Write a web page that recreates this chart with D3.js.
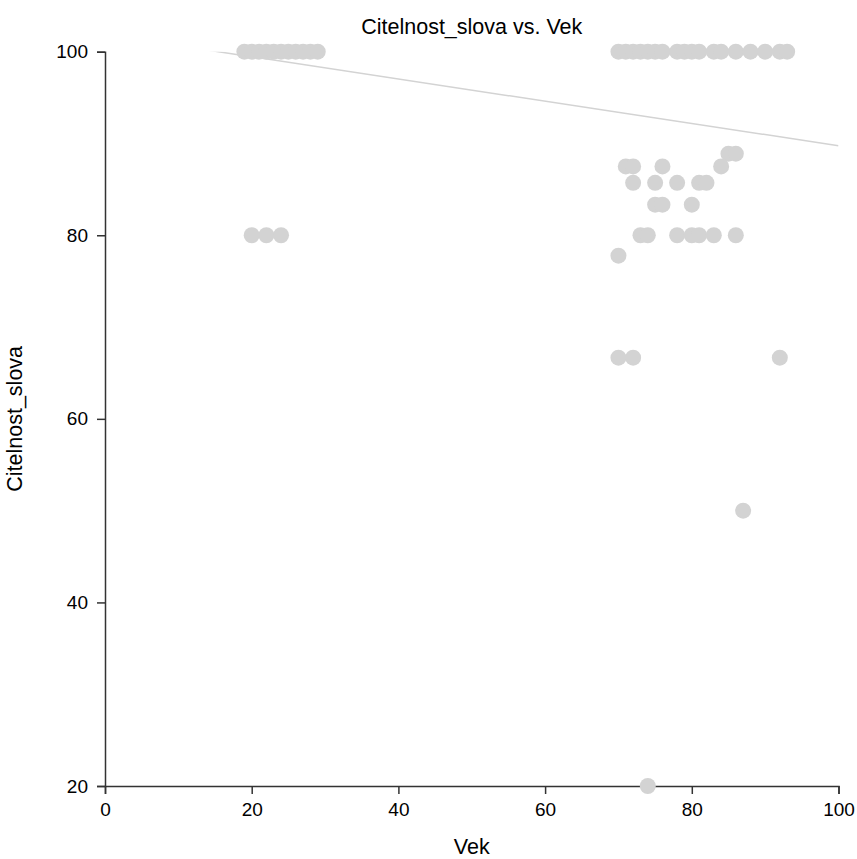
<!DOCTYPE html>
<html>
<head>
<meta charset="utf-8">
<script src="https://cdn.jsdelivr.net/npm/d3@7"></script>
<style>
  html, body { margin: 0; padding: 0; background: #fff; }
  text { font-family: "Liberation Sans", Arial, sans-serif; fill: #000; }
</style>
</head>
<body>
<script>
// Age (Vek) of each respondent and their word legibility score (Citelnost_slova)
const vek = [
  19, 20, 21, 22, 23, 24, 25, 26, 27, 28, 29,
  70, 71, 72, 73, 74, 75, 76, 78, 79, 80, 81, 83, 84, 86, 88, 90, 92, 93,
  85, 86,
  71, 72, 76, 84,
  72, 75, 78, 81, 82,
  75, 76, 80,
  20, 22, 24, 73, 74, 78, 80, 81, 83, 86,
  70,
  70, 72, 92,
  87,
  74
];
const citelnost = [
  100, 100, 100, 100, 100, 100, 100, 100, 100, 100, 100,
  100, 100, 100, 100, 100, 100, 100, 100, 100, 100, 100, 100, 100, 100, 100, 100, 100, 100,
  88.89, 88.89,
  87.5, 87.5, 87.5, 87.5,
  85.71, 85.71, 85.71, 85.71, 85.71,
  83.33, 83.33, 83.33,
  80, 80, 80, 80, 80, 80, 80, 80, 80, 80,
  77.78,
  66.67, 66.67, 66.67,
  50,
  20
];

// Linear trend line: citelnost = intercept + slope * vek
const trendIntercept = 101.87;
const trendSlope = -0.1211;

const xTicks = [0, 20, 40, 60, 80, 100];
const yTicks = [20, 40, 60, 80, 100];

const W = 857, H = 859;
const margin = { top: 51.7, right: 18.5, bottom: 73, left: 105 };

const svg = d3.select("body").append("svg")
  .attr("width", W).attr("height", H);

const x = d3.scaleLinear().domain([0, 100]).range([margin.left, W - margin.right]);
const y = d3.scaleLinear().domain([20, 100]).range([H - margin.bottom, margin.top]);

svg.append("defs").append("clipPath").attr("id", "plot-clip")
  .append("rect")
  .attr("x", x(0)).attr("y", y(100))
  .attr("width", x(100) - x(0)).attr("height", y(20) - y(100));

// Axes
const xAxis = svg.append("g")
  .attr("transform", `translate(0,${y(20)})`)
  .call(d3.axisBottom(x).tickValues(xTicks).tickSize(8).tickPadding(9).tickFormat(d3.format("d")));
const yAxis = svg.append("g")
  .attr("transform", `translate(${x(0)},0)`)
  .call(d3.axisLeft(y).tickValues(yTicks).tickSize(8).tickPadding(9).tickFormat(d3.format("d")));

[xAxis, yAxis].forEach(g => {
  g.selectAll("path, line").attr("stroke", "#333").attr("stroke-width", 1.5);
  g.selectAll("text").style("font-size", "19px").attr("fill", "#000");
});

// Trend line, clipped to the plotting area
svg.append("line")
  .attr("clip-path", "url(#plot-clip)")
  .attr("x1", x(0)).attr("y1", y(trendIntercept))
  .attr("x2", x(100)).attr("y2", y(trendIntercept + trendSlope * 100))
  .attr("stroke", "#d3d3d3")
  .attr("stroke-width", 1.5);

// Points
svg.append("g").selectAll("circle")
  .data(vek.map((v, i) => ({ v, c: citelnost[i] })))
  .join("circle")
  .attr("cx", d => x(d.v))
  .attr("cy", d => y(d.c))
  .attr("r", 8)
  .attr("fill", "#d3d3d3");

// Title and axis labels
svg.append("text")
  .attr("x", (x(0) + x(100)) / 2).attr("y", 34)
  .attr("text-anchor", "middle")
  .style("font-size", "21.5px")
  .text("Citelnost_slova vs. Vek");

svg.append("text")
  .attr("x", (x(0) + x(100)) / 2).attr("y", 854)
  .attr("text-anchor", "middle")
  .style("font-size", "21.5px")
  .text("Vek");

svg.append("text")
  .attr("transform", `translate(21.5,${(y(20) + y(100)) / 2}) rotate(-90)`)
  .attr("text-anchor", "middle")
  .style("font-size", "21.5px")
  .text("Citelnost_slova");
</script>
</body>
</html>
